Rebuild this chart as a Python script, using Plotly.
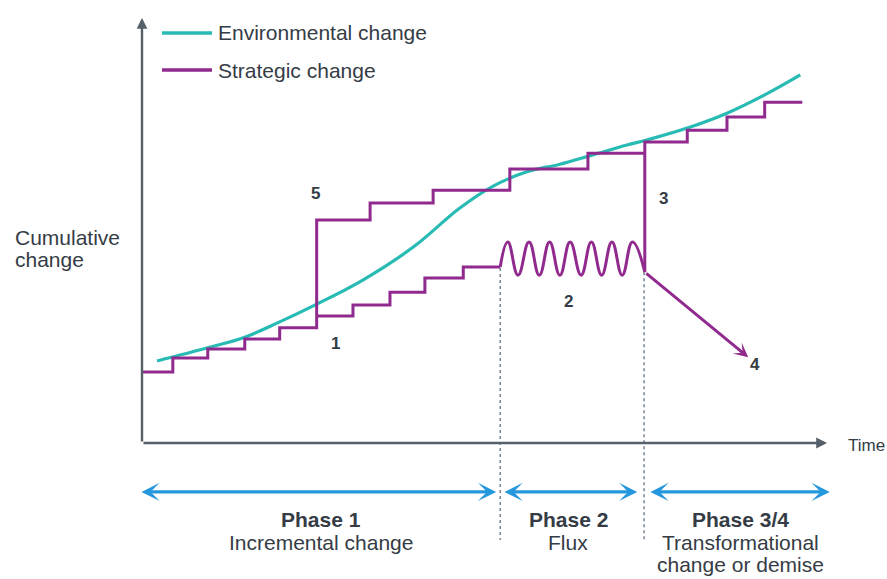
import plotly.graph_objects as go

# ---------------- data (time t: 0..100, cumulative change c: 0..100) ----------------
env_t = [2.2, 9.6, 15.0, 20.1, 25.3, 32.3, 39.6, 46.4, 51.2, 56.2, 61.0, 65.8, 70.8, 73.7, 79.6, 85.4, 90.9, 96.1]
env_c = [19.3, 22.4, 24.9, 28.5, 32.5, 38.4, 46.1, 55.3, 60.4, 63.8, 65.6, 67.8, 70.1, 71.3, 74.1, 77.6, 81.9, 86.6]

# incremental steps, jump "5", then upper steps
strat_main_t = [0, 4.5, 9.6, 15.0, 20.1, 25.5, 25.5, 33.3, 42.5, 53.7, 65.1, 73.4]
strat_main_c = [16.7, 20.0, 22.1, 24.5, 27.1, 27.1, 52.5, 56.5, 59.5, 64.5, 68.2, 68.2]

# lower incremental branch "1"
strat_low_t = [25.5, 30.8, 36.2, 41.3, 46.9, 52.3]
strat_low_c = [29.9, 32.5, 35.5, 38.8, 41.4, 41.4]

# flux "2" (start, peaks / troughs, end)
flux_t = [52.3, 53.4, 54.9, 56.5, 58.0, 59.5, 61.0, 62.5, 64.1, 65.6, 67.1, 68.6, 70.1, 71.6, 73.4]
flux_c = [41.4, 47.3, 39.5, 47.3, 39.5, 47.3, 39.5, 47.3, 39.5, 47.3, 39.5, 47.3, 39.5, 47.3, 40.2]

# transformational change "3"
transform_t = [73.4, 73.4, 79.6, 85.4, 90.9, 96.4]
transform_c = [40.2, 70.8, 73.6, 76.7, 80.2, 80.2]

# demise "4"
demise_t = [73.4, 88.5]
demise_c = [40.2, 20.2]

# phases
phase_bounds = [52.3, 73.3]
phase_bound_top = [41.2, 40.2]
phase_start = [-0.3, 52.7, 74.0]
phase_end = [51.7, 72.3, 100.4]
phase_center = [26.1, 62.2, 87.3]
phase_titles = ["Phase 1", "Phase 2", "Phase 3/4"]
phase_desc = [["Incremental change"], ["Flux"], ["Transformational", "change or demise"]]

# numbered labels
num_labels = ["5", "1", "2", "3", "4"]
num_t = [25.3, 28.2, 62.2, 76.1, 89.5]
num_c = [58.8, 23.5, 33.2, 57.6, 18.4]

# ---------------- layout constants ----------------
W, H = 887, 579
T0_PX, C0_PX = 142, 443
PX_T, PX_C = 6.85, 4.25
x_range = [-T0_PX / PX_T, (W - T0_PX) / PX_T]
y_range = [-(H - C0_PX) / PX_C, C0_PX / PX_C]

CYAN = "#27bbb4"
PURPLE = "#912a8e"
BLUE = "#2597dd"
AXIS = "#56606a"
TEXT = "#353c45"
DOT = "#7d8a9a"
FONT = "Liberation Sans, Arial, sans-serif"

fig = go.Figure()

# dotted phase boundaries
PHASE_BOTTOM = -22.8
for b, top in zip(phase_bounds, phase_bound_top):
    fig.add_trace(go.Scatter(x=[b, b], y=[top, PHASE_BOTTOM], mode="lines",
                             line=dict(color=DOT, width=1.6, dash="dot"), hoverinfo="skip"))

# environmental change
fig.add_trace(go.Scatter(x=env_t, y=env_c, mode="lines", name="Environmental change",
                         line=dict(color=CYAN, width=3.2, shape="spline", smoothing=1.1)))

# strategic change pieces
for tt, cc in [(strat_main_t, strat_main_c), (strat_low_t, strat_low_c), (transform_t, transform_c)]:
    fig.add_trace(go.Scatter(x=tt, y=cc, mode="lines", name="Strategic change",
                             line=dict(color=PURPLE, width=3, shape="hv")))
fig.add_trace(go.Scatter(x=flux_t, y=flux_c, mode="lines", name="Strategic change",
                         line=dict(color=PURPLE, width=3, shape="spline", smoothing=1.3)))

ann = []
# axes
ann.append(dict(x=0, y=100, ax=0, ay=0, xref="x", yref="y", axref="x", ayref="y", text="",
                showarrow=True, arrowhead=2, arrowsize=0.9, arrowwidth=2.4, arrowcolor=AXIS))
ann.append(dict(x=100, y=0, ax=0, ay=0, xref="x", yref="y", axref="x", ayref="y", text="",
                showarrow=True, arrowhead=2, arrowsize=0.9, arrowwidth=2.4, arrowcolor=AXIS))
# demise arrow
ann.append(dict(x=demise_t[1], y=demise_c[1], ax=demise_t[0], ay=demise_c[0], xref="x", yref="y",
                axref="x", ayref="y", text="", showarrow=True, arrowhead=3, arrowsize=0.8,
                arrowwidth=3, arrowcolor=PURPLE))
# phase arrows
PHASE_ARROW_C = -11.5
for s, e in zip(phase_start, phase_end):
    ann.append(dict(x=e, y=PHASE_ARROW_C, ax=s, ay=PHASE_ARROW_C, xref="x", yref="y",
                    axref="x", ayref="y", text="", showarrow=True, arrowside="end+start",
                    arrowhead=3, startarrowhead=3, arrowsize=0.95, startarrowsize=0.95,
                    arrowwidth=3.2, arrowcolor=BLUE))
# phase texts
LINE_C = [-18.1, -23.3, -28.6]
for ctr, title, desc in zip(phase_center, phase_titles, phase_desc):
    ann.append(dict(x=ctr, y=LINE_C[0], xref="x", yref="y", text="<b>%s</b>" % title,
                    showarrow=False, font=dict(family=FONT, size=21, color=TEXT)))
    for i, d in enumerate(desc):
        ann.append(dict(x=ctr, y=LINE_C[i + 1], xref="x", yref="y", text=d,
                        showarrow=False, font=dict(family=FONT, size=21, color=TEXT)))
# number labels
for lab, t, c in zip(num_labels, num_t, num_c):
    ann.append(dict(x=t, y=c, xref="x", yref="y", text="<b>%s</b>" % lab, showarrow=False,
                    font=dict(family=FONT, size=17, color=TEXT)))

# axis titles
def px(xp, yp):
    return xp / W, 1 - yp / H

for txt, yp in [("Cumulative", 237), ("change", 259)]:
    xx, yy = px(13, yp)
    ann.append(dict(x=xx, y=yy, xref="paper", yref="paper", text=txt, showarrow=False,
                    xanchor="left", yanchor="middle", font=dict(family=FONT, size=21, color=TEXT)))
xx, yy = px(846, 445)
ann.append(dict(x=xx, y=yy, xref="paper", yref="paper", text="Time", showarrow=False,
                xanchor="left", yanchor="middle", font=dict(family=FONT, size=17, color=TEXT)))

# legend (manual)
shapes = []
for name, col, yp in [("Environmental change", CYAN, 33), ("Strategic change", PURPLE, 70)]:
    x0, y0 = px(162, yp)
    x1, _ = px(212, yp)
    shapes.append(dict(type="line", xref="paper", yref="paper", x0=x0, x1=x1, y0=y0, y1=y0,
                       line=dict(color=col, width=3.5)))
    xt, _ = px(216, yp)
    ann.append(dict(x=xt, y=y0, xref="paper", yref="paper", text=name, showarrow=False,
                    xanchor="left", yanchor="middle", font=dict(family=FONT, size=21, color=TEXT)))

fig.update_layout(
    width=W, height=H, margin=dict(l=0, r=0, t=0, b=0),
    paper_bgcolor="white", plot_bgcolor="white", showlegend=False,
    xaxis=dict(range=x_range, visible=False, fixedrange=True),
    yaxis=dict(range=y_range, visible=False, fixedrange=True),
    annotations=ann, shapes=shapes,
)

fig.write_html("out.html", config={"displayModeBar": False},
               post_script="document.body.style.margin='0';document.body.style.padding='0';")
